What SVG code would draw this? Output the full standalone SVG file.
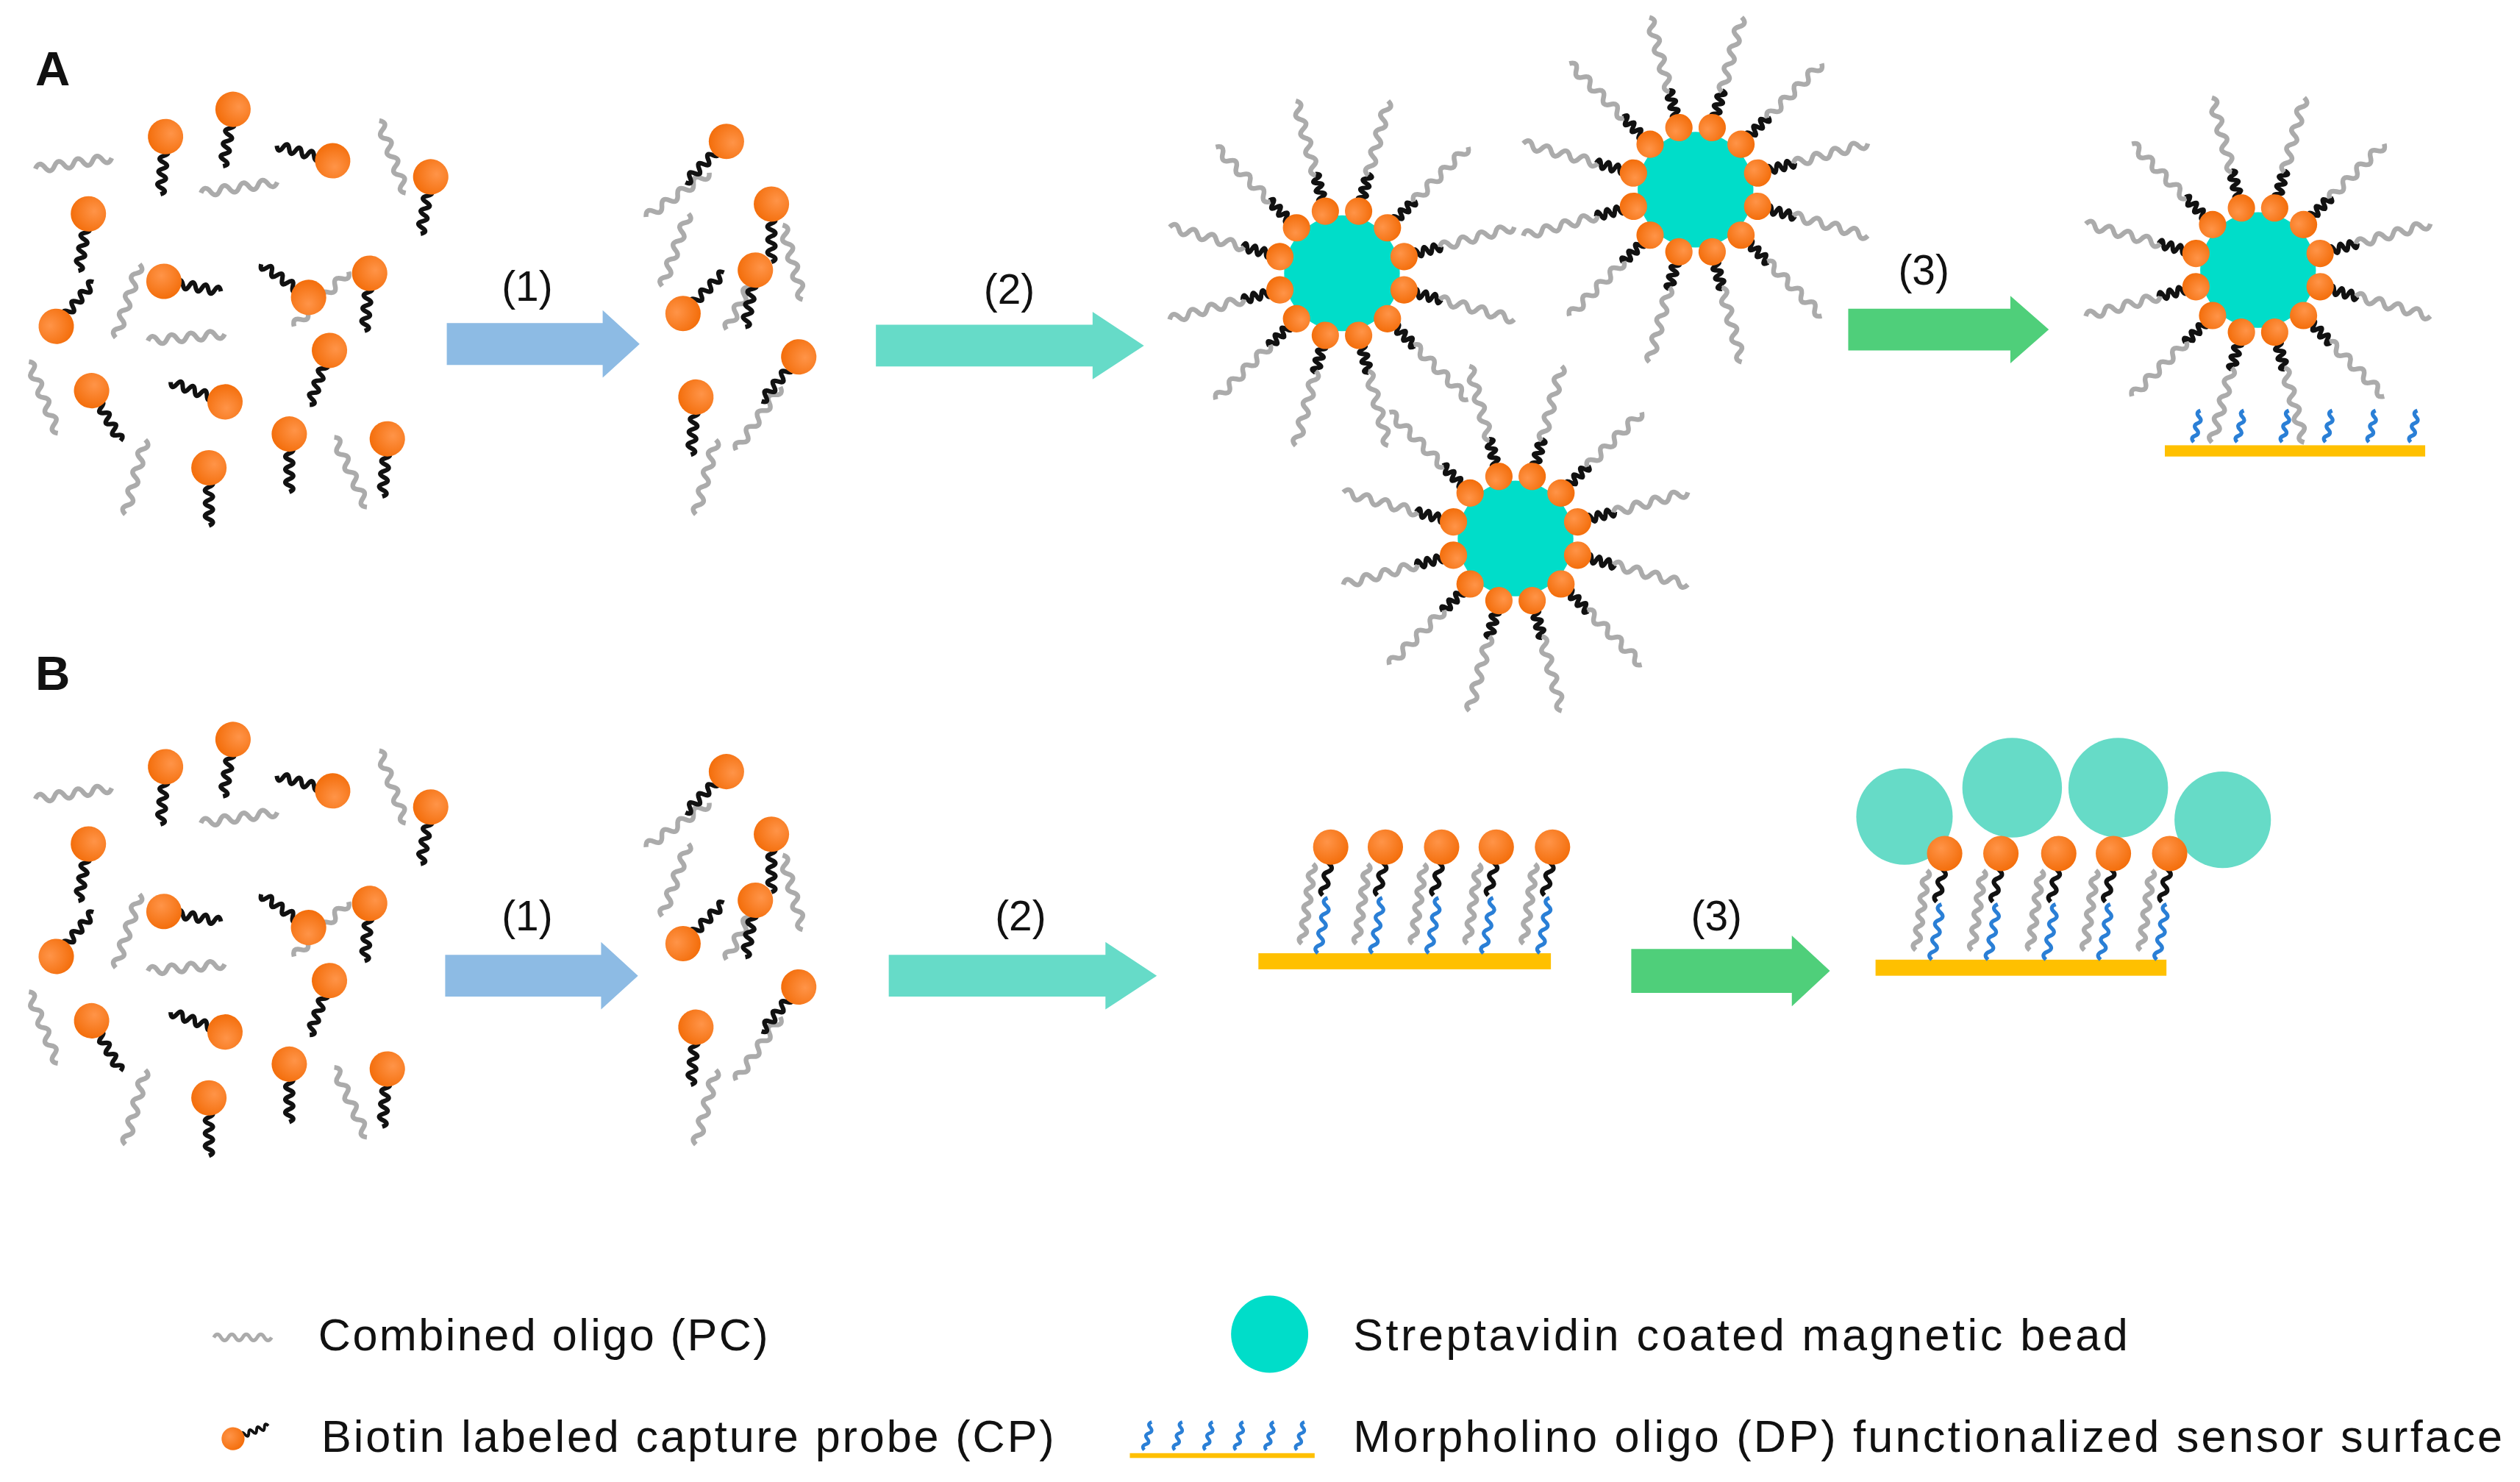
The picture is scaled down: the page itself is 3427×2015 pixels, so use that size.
<svg xmlns="http://www.w3.org/2000/svg" xmlns:xlink="http://www.w3.org/1999/xlink" width="3427" height="2015" viewBox="0 0 3427 2015">
<style>
.g{fill:none;stroke:#ababab;stroke-width:3;stroke-linejoin:round}
.k{fill:none;stroke:#111;stroke-width:2.8;stroke-linejoin:round}
.b{fill:none;stroke:#2a7fd6;stroke-width:2.4}
.t{font-family:"Liberation Sans",Arial,sans-serif;fill:#111}
.lab{font-size:26px;text-anchor:middle}
.leg{font-size:28px}
.big{font-size:30px;font-weight:bold}
</style>
<defs>
<radialGradient id="og" cx="0.4" cy="0.35" r="0.7"><stop offset="0" stop-color="#ff9448"/><stop offset="1" stop-color="#f36c08"/></radialGradient>
<path id="gs" class="g" d="M0 0q3 -5 6 0t6 0t6 0t6 0t6 0t6 0t6 0t6 0"/>
<path id="gl" class="g" d="M0 0q3 -5 6 0t6 0t6 0t6 0t6 0t6 0t6 0t6 0"/>
<path id="bk" class="k" d="M0 0q1.5 -5 3 0t3 0t3 0t3 0t3 0t3 0"/>
<path id="bk2" class="k" d="M0 0q2 -5 4 0t4 0t4 0t4 0t4 0t4 0t4 0"/>
<path id="vb" class="b" d="M0 0q-4 -2.5 0 -5t0 -5t0 -5t0 -5t0 -5t0 -5t0 -5"/>
<path id="vg" class="g" d="M0 0q-4 -2.5 0 -5t0 -5t0 -5t0 -5t0 -5t0 -5t0 -5t0 -5t0 -5t0 -5"/>
<path id="vk" class="k" d="M0 0q-4 -2.5 0 -5t0 -5t0 -5t0 -5t0 -5"/>
<path id="sb" class="b" d="M0 0q-3 -2 0 -4t0 -4t0 -4t0 -4t0 -4"/>
<g id="cp"><use href="#bk2" x="8"/><circle r="11" fill="url(#og)"/></g>
<g id="arm"><use href="#bk" x="46"/><use href="#gl" x="63"/><circle cx="40" r="8.5" fill="url(#og)"/></g>
<g id="bead">
<circle r="36" fill="#00ddc9"/>
<use href="#arm" transform="rotate(15)"/><use href="#arm" transform="rotate(45)"/><use href="#arm" transform="rotate(75)"/><use href="#arm" transform="rotate(105)"/><use href="#arm" transform="rotate(135)"/><use href="#arm" transform="rotate(165)"/><use href="#arm" transform="rotate(195)"/><use href="#arm" transform="rotate(225)"/><use href="#arm" transform="rotate(255)"/><use href="#arm" transform="rotate(285)"/><use href="#arm" transform="rotate(315)"/><use href="#arm" transform="rotate(345)"/>
</g>
<g id="probe">
<use href="#vg" transform="translate(-10,-6) rotate(8)"/>
<use href="#vb" transform="rotate(10)"/>
<use href="#vk" transform="translate(3,-36) rotate(12)"/>
<ellipse cx="8" cy="-66" rx="11" ry="11" fill="url(#og)"/>
</g>
<path id="arr" d="M0 -13H97V-21L120 0L97 21V13H0Z"/>
</defs>
<g transform="scale(2.1856)">
<g id="labels">
<text class="t big" x="22" y="53">A</text>
<text class="t big" x="22" y="429">B</text>
</g>
<g id="mixA">
<use href="#gs" transform="translate(22,105) rotate(-8)"/>
<use href="#gs" transform="translate(125,120) rotate(-8)"/>
<use href="#gs" transform="translate(236,75) rotate(70)"/>
<use href="#gs" transform="translate(183,203) rotate(-45)"/>
<use href="#gs" transform="translate(72,210) rotate(-72)"/>
<use href="#gs" transform="translate(92,212) rotate(-5)"/>
<use href="#gs" transform="translate(18,225) rotate(68)"/>
<use href="#gs" transform="translate(78,320) rotate(-75)"/>
<use href="#gs" transform="translate(208,272) rotate(65)"/>
<use href="#cp" transform="translate(103,85) rotate(95)"/>
<use href="#cp" transform="translate(145,68) rotate(100)"/>
<use href="#cp" transform="translate(207,100) rotate(195)"/>
<use href="#cp" transform="translate(268,110) rotate(100)"/>
<use href="#cp" transform="translate(55,133) rotate(100)"/>
<use href="#cp" transform="translate(102,175) rotate(10)"/>
<use href="#cp" transform="translate(192,185) rotate(215)"/>
<use href="#cp" transform="translate(230,170) rotate(95)"/>
<use href="#cp" transform="translate(35,203) rotate(-50)"/>
<use href="#cp" transform="translate(205,218) rotate(110)"/>
<use href="#cp" transform="translate(57,243) rotate(60)"/>
<use href="#cp" transform="translate(140,250) rotate(200)"/>
<use href="#cp" transform="translate(180,270) rotate(90)"/>
<use href="#cp" transform="translate(241,273) rotate(95)"/>
<use href="#cp" transform="translate(130,291) rotate(90)"/>
</g>
<g id="mixB"><use href="#mixA" y="392"/></g>
<g id="clusterA">
<use href="#gs" transform="translate(402,135) rotate(-35)"/>
<use href="#gs" transform="translate(487,140) rotate(75)"/>
<use href="#gs" transform="translate(452,205) rotate(-62)"/>
<use href="#gs" transform="translate(433,320) rotate(-75)"/>
<use href="#gs" transform="translate(458,280) rotate(-55)"/>
<use href="#gs" transform="translate(412,178) rotate(-70)"/>
<use href="#cp" transform="translate(452,88) rotate(135)"/>
<use href="#cp" transform="translate(480,127) rotate(90)"/>
<use href="#cp" transform="translate(425,195) rotate(-45)"/>
<use href="#cp" transform="translate(470,168) rotate(100)"/>
<use href="#cp" transform="translate(433,247) rotate(95)"/>
<use href="#cp" transform="translate(497,222) rotate(130)"/>
</g>
<g id="clusterB"><use href="#clusterA" y="392"/></g>
<g id="beadsA">
<use href="#bead" x="835" y="170"/>
<use href="#bead" x="1055" y="118"/>
<use href="#bead" x="943" y="335"/>
</g>
<g id="finalA">
<rect x="1347" y="277" width="162" height="7" fill="#ffc000"/>
<use href="#sb" transform="translate(1365,275) rotate(12)"/>
<use href="#sb" transform="translate(1392,275) rotate(12)"/>
<use href="#sb" transform="translate(1420,275) rotate(12)"/>
<use href="#sb" transform="translate(1447,275) rotate(12)"/>
<use href="#sb" transform="translate(1474,275) rotate(12)"/>
<use href="#sb" transform="translate(1500,275) rotate(12)"/>
<use href="#bead" x="1405" y="168"/>
</g>
<g id="surfaceB2">
<rect x="783" y="593" width="182" height="10" fill="#ffc000"/>
<use href="#probe" x="820" y="593"/>
<use href="#probe" x="854" y="593"/>
<use href="#probe" x="889" y="593"/>
<use href="#probe" x="923" y="593"/>
<use href="#probe" x="958" y="593"/>
</g>
<g id="surfaceB3">
<circle cx="1185" cy="508" r="30" fill="#66dbc7"/>
<circle cx="1252" cy="490" r="31" fill="#66dbc7"/>
<circle cx="1318" cy="490" r="31" fill="#66dbc7"/>
<circle cx="1383" cy="510" r="30" fill="#66dbc7"/>
<rect x="1167" y="597" width="181" height="10" fill="#ffc000"/>
<use href="#probe" x="1202" y="597"/>
<use href="#probe" x="1237" y="597"/>
<use href="#probe" x="1273" y="597"/>
<use href="#probe" x="1307" y="597"/>
<use href="#probe" x="1342" y="597"/>
</g>
<g id="connectors">
<use href="#arr" fill="#8dbbe4" transform="translate(278,214)"/>
<use href="#arr" fill="#66dbc8" transform="translate(545,215) scale(1.39,1)"/>
<use href="#arr" fill="#4fcf7a" transform="translate(1150,205) scale(1.04,1)"/>
<use href="#arr" fill="#8dbbe4" transform="translate(277,607)"/>
<use href="#arr" fill="#66dbc8" transform="translate(553,607) scale(1.39,1)"/>
<use href="#arr" fill="#4fcf7a" transform="translate(1015,604) scale(1.03,1.05)"/>
<text class="t lab" x="328" y="187">(1)</text>
<text class="t lab" x="628" y="189">(2)</text>
<text class="t lab" x="1197" y="177">(3)</text>
<text class="t lab" x="328" y="579">(1)</text>
<text class="t lab" x="635" y="579">(2)</text>
<text class="t lab" x="1068" y="579">(3)</text>
</g>
<g id="legend">
<use href="#gs" transform="translate(133,832) scale(0.75)"/>
<text class="t leg" x="198" y="840" textLength="280">Combined oligo (PC)</text>
<use href="#cp" transform="translate(145,895) rotate(-20) scale(0.65)"/>
<text class="t leg" x="200" y="903" textLength="456">Biotin labeled capture probe (CP)</text>
<circle cx="790" cy="830" r="24" fill="#00ddc9"/>
<text class="t leg" x="842" y="840" textLength="482">Streptavidin coated magnetic bead</text>
<rect x="703" y="904" width="115" height="3" fill="#ffc000"/>
<use href="#sb" transform="translate(712,902) rotate(15) scale(0.9)"/>
<use href="#sb" transform="translate(731,902) rotate(15) scale(0.9)"/>
<use href="#sb" transform="translate(750,902) rotate(15) scale(0.9)"/>
<use href="#sb" transform="translate(769,902) rotate(15) scale(0.9)"/>
<use href="#sb" transform="translate(788,902) rotate(15) scale(0.9)"/>
<use href="#sb" transform="translate(807,902) rotate(15) scale(0.9)"/>
<text class="t leg" x="842" y="903" textLength="715">Morpholino oligo (DP) functionalized sensor surface</text>
</g>
</g>
</svg>
